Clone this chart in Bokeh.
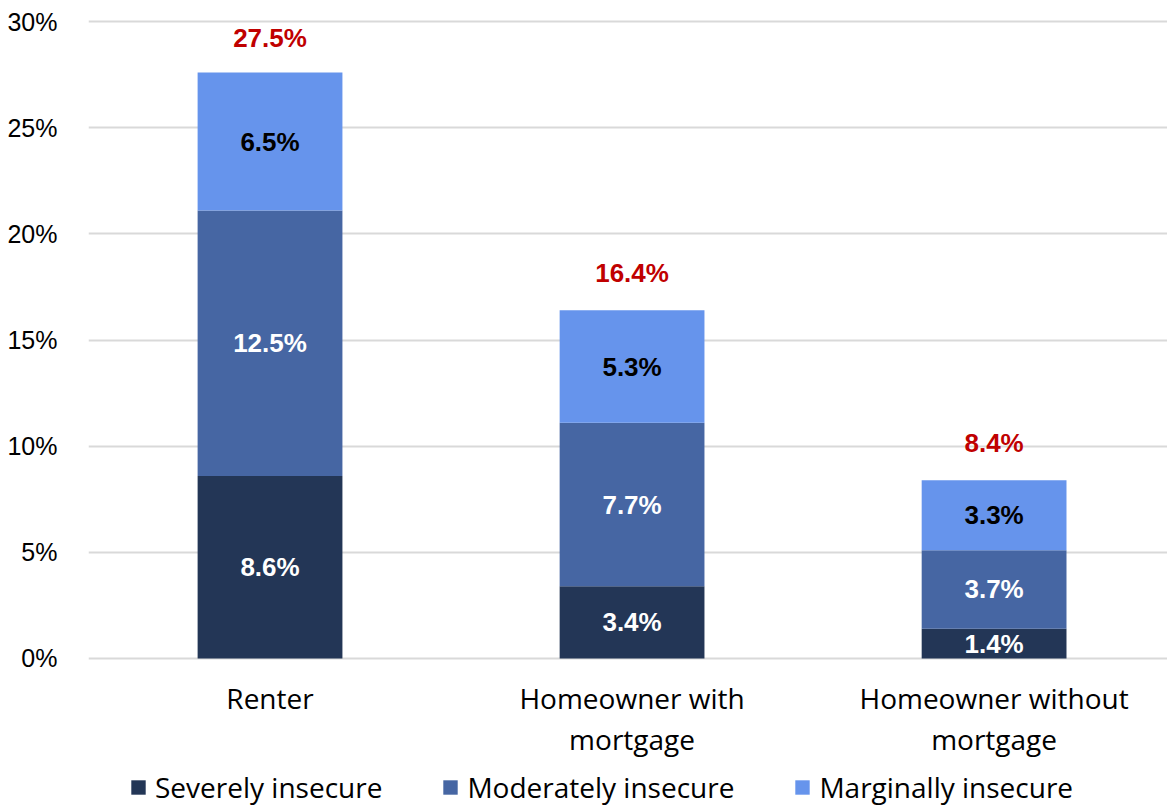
from bokeh.plotting import figure
from bokeh.models import (ColumnDataSource, Range1d, FixedTicker, PrintfTickFormatter,
                          Legend, LegendItem)
from bokeh.core.properties import value
from bokeh.embed import file_html
from bokeh.resources import INLINE

categories = ["Renter", "Homeowner with\nmortgage", "Homeowner without\nmortgage"]
series_names = ["Severely insecure", "Moderately insecure", "Marginally insecure"]
severe = [8.6, 3.4, 1.4]
moderate = [12.5, 7.7, 3.7]
marginal = [6.5, 5.3, 3.3]
totals = [27.5, 16.4, 8.4]
y_ticks = [0, 5, 10, 15, 20, 25, 30]

colors = ["#233656", "#4666A3", "#6694EC"]
label_colors = ["white", "white", "black"]

xs = list(range(len(categories)))
source = ColumnDataSource(dict(x=xs, severe=severe, moderate=moderate, marginal=marginal))

p = figure(output_backend="svg", toolbar_location=None,
           width=1167, height=807,
           min_border_left=88, min_border_right=0, min_border_top=19, min_border_bottom=0,
           x_range=Range1d(-0.5014, 2.479), y_range=Range1d(-7.02, 30.1))
p.outline_line_color = None
p.background_fill_color = "white"
p.xaxis.visible = False

renderers = p.vbar_stack(["severe", "moderate", "marginal"], x="x", width=0.4,
                         color=colors, line_color=None, source=source)

# segment labels
stacks = [severe, moderate, marginal]
base = [0.0] * len(xs)
for vals, tc in zip(stacks, label_colors):
    mids = [b + v / 2 for b, v in zip(base, vals)]
    p.text(x=xs, y=mids, text=[f"{v:.1f}%" for v in vals], text_align="center",
           text_baseline="middle", text_color=tc, text_font=value("Liberation Sans"),
           text_font_style="bold", text_font_size="26px")
    base = [b + v for b, v in zip(base, vals)]

p.text(x=xs, y=totals, text=[f"{v:.1f}%" for v in totals], text_align="center",
       text_baseline="middle", y_offset=-37, text_color="#C00000",
       text_font=value("Liberation Sans"), text_font_style="bold", text_font_size="26px")

# category labels (below the zero line)
p.text(x=xs, y=[0] * len(xs), text=categories, text_align="center", text_baseline="top",
       y_offset=21, text_color="black", text_font=value("Open Sans"),
       text_font_size="28px", text_line_height=1.07)

# y axis
p.yaxis.ticker = FixedTicker(ticks=y_ticks)
p.yaxis.formatter = PrintfTickFormatter(format="%d%%")
p.yaxis.axis_line_color = None
p.yaxis.major_tick_line_color = None
p.yaxis.minor_tick_line_color = None
p.yaxis.major_tick_in = 0
p.yaxis.major_tick_out = 0
p.yaxis.major_label_standoff = 31
p.yaxis.major_label_text_font = "Liberation Sans"
p.yaxis.major_label_text_font_size = "25px"
p.yaxis.major_label_text_color = "black"

p.xgrid.grid_line_color = None
p.ygrid.ticker = FixedTicker(ticks=y_ticks)
p.ygrid.grid_line_color = "#D9D9D9"
p.ygrid.grid_line_width = 2

legend = Legend(items=[LegendItem(label=n, renderers=[r]) for n, r in zip(series_names, renderers)],
                orientation="horizontal", location=(41, 1))
legend.border_line_color = None
legend.background_fill_alpha = 0
legend.label_text_font = "Open Sans"
legend.label_text_font_size = "28px"
legend.label_text_color = "black"
legend.glyph_width = 18
legend.glyph_height = 18
legend.label_standoff = 8
legend.spacing = 59
legend.padding = 0
legend.margin = 0
p.add_layout(legend, "center")

open("out.html", "w").write(file_html(p, INLINE))
